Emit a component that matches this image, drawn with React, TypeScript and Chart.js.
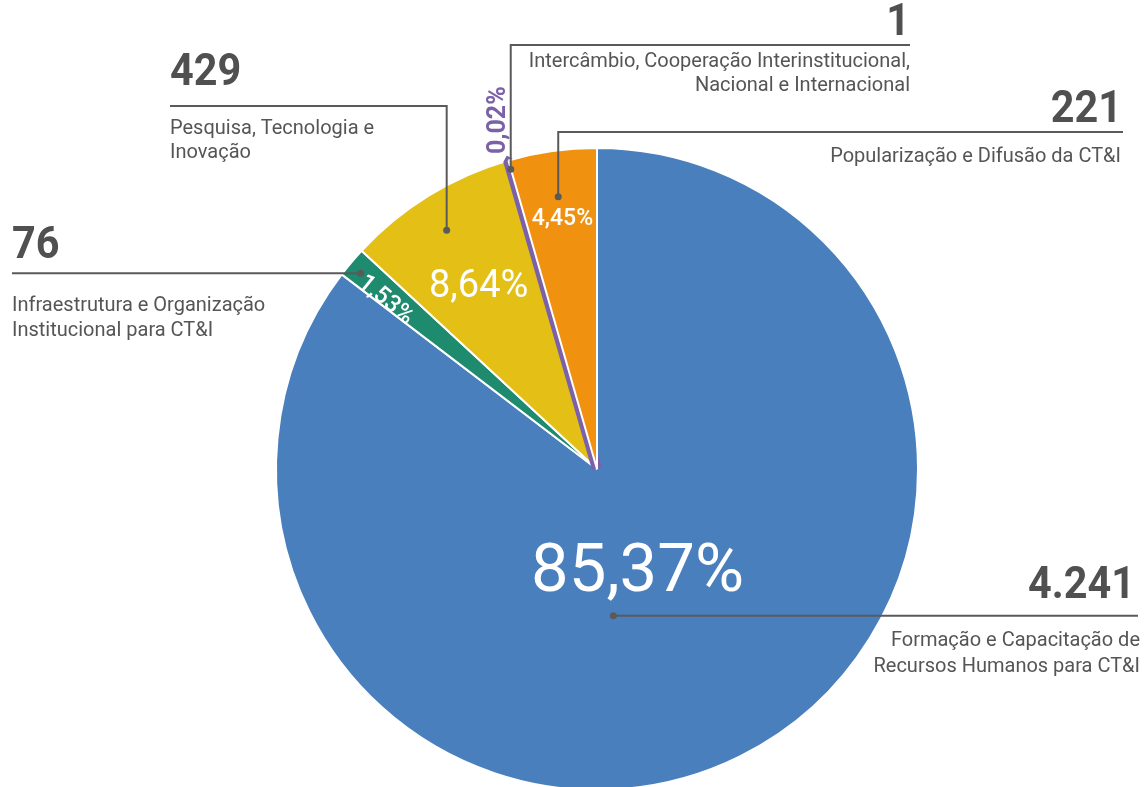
import React, { useEffect, useRef } from 'react';
import { Chart, registerables } from 'chart.js';

Chart.register(...registerables);

// ---- data ----
const categoryLines: string[][] = [
  ['Formação e Capacitação de', 'Recursos Humanos para CT&I'],
  ['Infraestrutura e Organização', 'Institucional para CT&I'],
  ['Pesquisa, Tecnologia e', 'Inovação'],
  ['Intercâmbio, Cooperação Interinstitucional,', 'Nacional e Internacional'],
  ['Popularização e Difusão da CT&I'],
];
const values = [4241, 76, 429, 1, 221];
const valueLabels = ['4.241', '76', '429', '1', '221'];
const percentLabels = ['85,37%', '1,53%', '8,64%', '0,02%', '4,45%'];
const sliceColors = ['#4A7FBD', '#1E8A6E', '#E4C017', '#7B62A8', '#F0920F'];

// ---- layout (positions / styles only) ----
type Leader = {
  t: number; r: number; lineY: number | null; endX: number;
  align: CanvasTextAlign; numX: number; numY: number; subX: number; subY: number[];
};
const leaders: Leader[] = [
  { t: 0.565, r: 0.46, lineY: null, endX: 1138, align: 'right', numX: 1135, numY: 598, subX: 1140, subY: [646, 672] },
  { t: 0.42, r: 0.956, lineY: null, endX: 12, align: 'left', numX: 12, numY: 258, subX: 12, subY: [311, 336] },
  { t: 0.482, r: 0.879, lineY: 106, endX: 170, align: 'left', numX: 170, numY: 85, subX: 170, subY: [134, 158] },
  { t: 0.5, r: 0.972, lineY: 45, endX: 910, align: 'right', numX: 910, numY: 35, subX: 910, subY: [67, 91] },
  { t: 0.494, r: 0.857, lineY: 132, endX: 1123, align: 'right', numX: 1122, numY: 122, subX: 1121, subY: [162] },
];
type PctStyle = { t: number; r: number; size: number; weight: string; color: string; rot: 'none' | 'radial' | 'up' };
const pctStyles: PctStyle[] = [
  { t: 0.513, r: 0.332, size: 67, weight: '400', color: '#ffffff', rot: 'none' },
  { t: 0.33, r: 0.842, size: 24, weight: '500', color: '#ffffff', rot: 'radial' },
  { t: 0.472, r: 0.686, size: 38, weight: '400', color: '#ffffff', rot: 'none' },
  { t: 0.0, r: 1.131, size: 25, weight: '700', color: '#7B62A8', rot: 'up' },
  { t: 0.513, r: 0.794, size: 23, weight: '500', color: '#ffffff', rot: 'none' },
];

const FONT = 'Roboto, "Noto Sans", sans-serif';
const INK = '#555555';
const NUM_SCALE = 0.92;

const labelPlugin = {
  id: 'leaderLabels',
  afterDatasetsDraw(chart: any) {
    const ctx: CanvasRenderingContext2D = chart.ctx;
    const meta = chart.getDatasetMeta(0);
    meta.data.forEach((arc: any, i: number) => {
      const p = arc.getProps(['x', 'y', 'startAngle', 'endAngle', 'outerRadius'], true);
      // percentage label
      const ps = pctStyles[i];
      const a = p.startAngle + (p.endAngle - p.startAngle) * ps.t;
      const px = p.x + Math.cos(a) * p.outerRadius * ps.r;
      const py = p.y + Math.sin(a) * p.outerRadius * ps.r;
      ctx.save();
      ctx.translate(px, py);
      if (ps.rot === 'radial') ctx.rotate(a + Math.PI);
      if (ps.rot === 'up') ctx.rotate(-Math.PI / 2);
      ctx.font = `${ps.weight} ${ps.size}px ${FONT}`;
      ctx.fillStyle = ps.color;
      ctx.textAlign = 'center';
      ctx.textBaseline = 'alphabetic';
      ctx.fillText(percentLabels[i], 0, ps.size * 0.355);
      ctx.restore();

      // leader line
      const L = leaders[i];
      const da = p.startAngle + (p.endAngle - p.startAngle) * L.t;
      const dx = p.x + Math.cos(da) * p.outerRadius * L.r;
      const dy = p.y + Math.sin(da) * p.outerRadius * L.r;
      ctx.save();
      ctx.strokeStyle = '#5a5a5a';
      ctx.fillStyle = '#5a5a5a';
      ctx.lineWidth = 2;
      ctx.beginPath();
      ctx.moveTo(dx, dy);
      if (L.lineY !== null) {
        ctx.lineTo(dx, L.lineY);
        ctx.lineTo(L.endX, L.lineY);
      } else {
        ctx.lineTo(L.endX, dy);
      }
      ctx.stroke();
      ctx.beginPath();
      ctx.arc(dx, dy, 3.5, 0, Math.PI * 2);
      ctx.fill();

      // value (slightly condensed) + category text
      ctx.textAlign = L.align;
      ctx.textBaseline = 'alphabetic';
      ctx.save();
      ctx.translate(L.numX, L.numY);
      ctx.scale(NUM_SCALE, 1);
      ctx.fillStyle = '#505050';
      ctx.font = `700 45px ${FONT}`;
      ctx.fillText(valueLabels[i], 0, 0);
      ctx.restore();
      ctx.fillStyle = INK;
      ctx.font = `400 20px ${FONT}`;
      categoryLines[i].forEach((line, k) => ctx.fillText(line, L.subX, L.subY[k]));
      ctx.restore();
    });
  },
};

export default function App() {
  const ref = useRef<HTMLCanvasElement | null>(null);
  useEffect(() => {
    if (!ref.current) return;
    const chart = new Chart(ref.current, {
      type: 'pie',
      data: {
        labels: categoryLines.map((l) => l.join(' ')),
        datasets: [
          {
            data: values,
            backgroundColor: sliceColors,
            borderColor: ['#ffffff', '#ffffff', '#ffffff', '#7B62A8', '#ffffff'],
            borderWidth: [2, 2, 2, 10, 2],
          } as any,
        ],
      },
      options: {
        responsive: false,
        maintainAspectRatio: false,
        animation: false,
        layout: { padding: { left: 271, right: 224, top: 143, bottom: 2 } },
        plugins: { legend: { display: false }, tooltip: { enabled: false } },
      },
      plugins: [labelPlugin],
    });
    return () => chart.destroy();
  }, []);
  return (
    <div style={{ position: 'fixed', left: 0, top: 0, width: 1147, height: 787, overflow: 'hidden', background: '#fff' }}>
      <canvas ref={ref} width={1147} height={797} style={{ display: 'block', width: 1147, height: 797 }} />
    </div>
  );
}
